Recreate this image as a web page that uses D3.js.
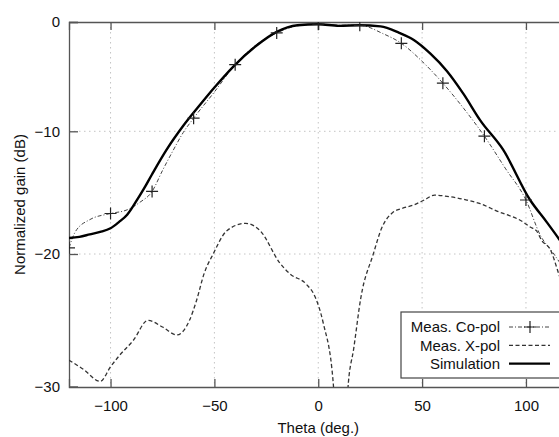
<!DOCTYPE html>
<html>
<head>
<meta charset="utf-8">
<script src="https://cdn.jsdelivr.net/npm/d3@7"></script>
<style>
  body { margin: 0; background: #fff; }
  text { font-family: "Liberation Sans", Arial, sans-serif; }
</style>
</head>
<body>
<script>
// Radiation pattern: measured co-pol / x-pol vs simulation

// simulation (solid)
const simTheta = [-120,-115,-110,-105,-100,-96,-92,-88,-84,-80,-73,-65,-57,-50,-41,-30,-20,-10,0,10,20,30,39,46,54,62,70,78,89,102,110,116,120];
const simGain  = [-18.7,-18.6,-18.4,-18.2,-17.9,-17.4,-16.8,-15.8,-14.7,-13.5,-11.5,-9.5,-7.6,-6.0,-4.1,-2.2,-0.9,-0.3,-0.2,-0.35,-0.3,-0.4,-1.0,-1.65,-2.9,-4.5,-6.6,-9.0,-11.5,-15.6,-17.4,-18.8,-19.8];

// measured co-pol (dash-dot, + marks every 20 deg)
const copolTheta = [-120,-117,-110,-100,-92,-86,-80,-75,-70,-65,-60,-50,-40,-30,-20,-10,0,10,20,31,40,50,60,70,80,90,100,107,113,120];
const copolGain  = [-19.5,-18.2,-17.2,-16.7,-16.4,-15.8,-14.9,-13.2,-11.6,-10.1,-8.8,-6.4,-3.9,-2.1,-1.0,-0.35,-0.2,-0.3,-0.3,-1.05,-1.95,-3.6,-5.6,-7.9,-10.4,-13.0,-15.6,-18.5,-19.9,-21.5];

// measured x-pol (dashed)
const xpolTheta = [-120,-113,-105,-100,-96,-89,-82,-75,-68,-62,-58.6,-55,-50.6,-44,-35,-28,-18.4,-13.6,-5.6,-1.6,2.4,7.2,11,14.5,17,20.5,26.5,30.5,36,40,46,51,56,62,71.5,78,86,98.7,102,105,107.6,111.6,116,120];
const xpolGain  = [-28.0,-28.7,-29.6,-28.5,-27.7,-26.5,-25.0,-25.5,-26.1,-25.0,-23.5,-21.5,-20.0,-18.1,-17.5,-18.1,-20.7,-21.5,-22.3,-23.2,-25.2,-29.7,-40,-29.7,-27.2,-23.3,-20.0,-17.9,-16.6,-16.3,-16.0,-15.6,-15.2,-15.3,-15.6,-15.9,-16.5,-17.4,-17.8,-18.1,-18.9,-19.6,-21.6,-23.5];

const xTicks = [-100, -50, 0, 50, 100];
const yTicks = [0, -10, -20, -30];
const legendLabels = ['Meas. Co-pol', 'Meas. X-pol', 'Simulation'];

const width = 559;
const height = 437;
const margin = ({top: 22, left: 69, bottom: 387, right: 567.5});

const xScale = d3.scaleLinear()
  .domain([-120, 120])
  .range([margin.left, margin.right]);

// the picture's dB axis is not evenly spaced, so map each decade separately
const yScale = d3.scaleLinear()
  .domain([0, -10, -20, -30])
  .range([22, 131.3, 254, 386.7]);

const svg = d3.select('body')
  .append('svg')
  .attr('width', width)
  .attr('height', height);

svg.append('defs').append('clipPath')
  .attr('id', 'plot')
  .append('rect')
  .attr('x', margin.left)
  .attr('y', margin.top)
  .attr('width', margin.right - margin.left)
  .attr('height', margin.bottom - margin.top);

// grid
const grid = svg.append('g')
  .attr('stroke', '#c4c4c4')
  .attr('stroke-width', 1)
  .attr('stroke-dasharray', '1.5,3.5');
grid.selectAll('.gx')
  .data(xTicks)
  .join('line')
  .attr('x1', d => xScale(d)).attr('x2', d => xScale(d))
  .attr('y1', margin.top).attr('y2', margin.bottom);
grid.selectAll('.gy')
  .data(yTicks.slice(1, 3))
  .join('line')
  .attr('x1', margin.left).attr('x2', margin.right)
  .attr('y1', d => yScale(d)).attr('y2', d => yScale(d));

// axes (inward ticks)
const axisColor = '#555';
const xAxis = d3.axisBottom(xScale).tickValues(xTicks).tickSize(-8).tickPadding(13);
svg.append('g')
  .attr('transform', `translate(0,${margin.bottom})`)
  .call(xAxis)
  .call(g => g.selectAll('line, path').attr('stroke', axisColor).attr('stroke-width', 1.3))
  .call(g => g.selectAll('text').attr('font-size', 15).attr('fill', '#111')
    .attr('font-family', '"Liberation Sans", Arial, sans-serif'));

const xTop = d3.axisTop(xScale).tickValues(xTicks).tickSize(-8).tickFormat('');
svg.append('g')
  .attr('transform', `translate(0,${margin.top})`)
  .call(xTop)
  .call(g => g.selectAll('line, path').attr('stroke', axisColor).attr('stroke-width', 1.3));

const yAxis = d3.axisLeft(yScale).tickValues(yTicks).tickSize(-9).tickPadding(9).tickFormat(d3.format('d'));
svg.append('g')
  .attr('transform', `translate(${margin.left},0)`)
  .call(yAxis)
  .call(g => g.selectAll('line, path').attr('stroke', axisColor).attr('stroke-width', 1.3))
  .call(g => g.selectAll('text').attr('font-size', 15).attr('fill', '#111')
    .attr('font-family', '"Liberation Sans", Arial, sans-serif'));

// curves
const plot = svg.append('g').attr('clip-path', 'url(#plot)');

const line = d3.line()
  .x(d => xScale(d[0]))
  .y(d => yScale(d[1]))
  .curve(d3.curveMonotoneX);

const xpol = d3.zip(xpolTheta, xpolGain);
const copol = d3.zip(copolTheta, copolGain);
const sim = d3.zip(simTheta, simGain);

plot.append('path')
  .datum(xpol)
  .attr('d', line)
  .attr('fill', 'none')
  .attr('stroke', '#333')
  .attr('stroke-width', 1.3)
  .attr('stroke-dasharray', '4,2.5');

plot.append('path')
  .datum(copol)
  .attr('d', line)
  .attr('fill', 'none')
  .attr('stroke', '#444')
  .attr('stroke-width', 1)
  .attr('stroke-dasharray', '4,2,1,2');

plot.append('path')
  .datum(sim)
  .attr('d', line)
  .attr('fill', 'none')
  .attr('stroke', '#000')
  .attr('stroke-width', 2.4);

// + markers on co-pol
const plus = (g, size) => g.append('path')
  .attr('d', `M${-size},0H${size}M0,${-size}V${size}`)
  .attr('stroke', '#222')
  .attr('stroke-width', 1.2)
  .attr('fill', 'none');

plot.selectAll('.mark')
  .data(copol.filter(d => d[0] % 20 === 0))
  .join('g')
  .attr('transform', d => `translate(${xScale(d[0])},${yScale(d[1])})`)
  .each(function() { plus(d3.select(this), 6); });

// axis titles
svg.append('text')
  .attr('x', xScale(0))
  .attr('y', 433)
  .attr('text-anchor', 'middle')
  .attr('font-size', 15)
  .attr('fill', '#111')
  .text('Theta (deg.)');

svg.append('text')
  .attr('transform', `translate(25,${(margin.top + margin.bottom) / 2}) rotate(-90)`)
  .attr('text-anchor', 'middle')
  .attr('font-size', 15)
  .attr('fill', '#111')
  .text('Normalized gain (dB)');

// legend
const legend = svg.append('g');
legend.append('rect')
  .attr('x', 401).attr('y', 312)
  .attr('width', 162).attr('height', 66)
  .attr('fill', '#fff')
  .attr('stroke', '#444')
  .attr('stroke-width', 1.2);

const legendStyles = [
  {stroke: '#444', width: 1, dash: '4,2,1,2'},
  {stroke: '#333', width: 1.3, dash: '4,2.5'},
  {stroke: '#000', width: 2.4, dash: null}
];

legendLabels.forEach((label, i) => {
  const y = 327 + i * 18.3;
  legend.append('text')
    .attr('x', 500)
    .attr('y', y)
    .attr('dy', '0.35em')
    .attr('text-anchor', 'end')
    .attr('font-size', 15)
    .attr('fill', '#111')
    .text(label);
  legend.append('line')
    .attr('x1', 509).attr('x2', 550)
    .attr('y1', y).attr('y2', y)
    .attr('stroke', legendStyles[i].stroke)
    .attr('stroke-width', legendStyles[i].width)
    .attr('stroke-dasharray', legendStyles[i].dash);
  if (i === 0) {
    plus(legend.append('g').attr('transform', `translate(530,${y})`), 6);
  }
});
</script>
</body>
</html>
